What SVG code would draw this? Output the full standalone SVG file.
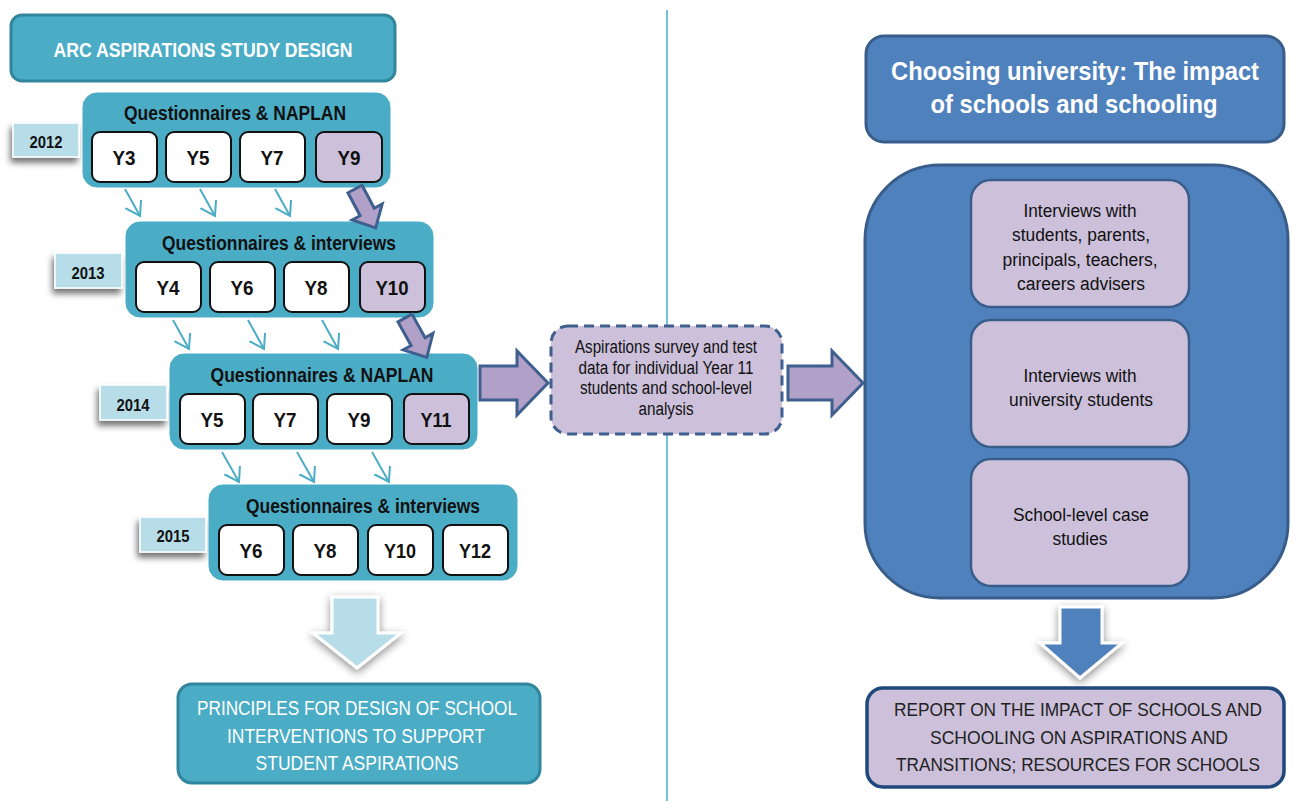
<svg xmlns="http://www.w3.org/2000/svg" width="1295" height="801" viewBox="0 0 1295 801">
<defs>
<filter id="sh" x="-30%" y="-30%" width="160%" height="180%"><feDropShadow dx="-2" dy="5" stdDeviation="3" flood-color="#000" flood-opacity="0.55"/></filter>
<filter id="sh2" x="-30%" y="-30%" width="160%" height="160%"><feDropShadow dx="0" dy="3" stdDeviation="4" flood-color="#000" flood-opacity="0.45"/></filter>
<marker id="v" markerUnits="userSpaceOnUse" markerWidth="18" markerHeight="20" refX="14" refY="9" orient="auto"><path d="M0,0 L14,9 L0,18" fill="none" stroke="#4BACC6" stroke-width="2"/></marker>
<style>
text{font-family:"Liberation Sans",Arial,sans-serif;text-anchor:middle;}
.grp{fill:#4BACC6;stroke:#4BACC6;}
.yb{fill:#fff;stroke:#111;stroke-width:2;}
.yp{fill:#CCC0DA;stroke:#111;stroke-width:2;}
.yt{font-weight:bold;font-size:21px;fill:#111;}
.hd{font-weight:bold;font-size:20px;fill:#111;}
.tag{fill:#B7DEE8;stroke:#fff;stroke-width:1.5;}
.tagt{font-weight:bold;font-size:16px;fill:#111;}
.thin{stroke:#4BACC6;stroke-width:2;fill:none;marker-end:url(#v);}
.parr{fill:#B1A0C7;stroke:#3F5F8F;stroke-width:3;stroke-linejoin:miter;}
.lav{fill:#CCC0DA;stroke:#385D8A;stroke-width:2.5;}
.nt{font-size:18px;fill:#111;}
.st{font-size:18px;fill:#111;}
.wt{font-size:20px;fill:#fff;}
.rt{font-size:18.5px;fill:#222;}
.tt{font-weight:bold;font-size:25px;fill:#fff;}
</style>
</defs>
<rect width="1295" height="801" fill="#fff"/>
<line x1="667" y1="10" x2="667" y2="801" stroke="#4BACC6" stroke-width="1.5"/>

<g id="title-left">
<rect x="11" y="15" width="384" height="66" rx="11" fill="#4BACC6" stroke="#31859C" stroke-width="3"/>
<text x="203" y="57" font-weight="bold" font-size="20" fill="#fff" textLength="299" lengthAdjust="spacingAndGlyphs">ARC ASPIRATIONS STUDY DESIGN</text>
</g>

<g id="tag-2012"><rect class="tag" x="13" y="123" width="66" height="34" filter="url(#sh)"/><text class="tagt" x="46" y="148" textLength="33" lengthAdjust="spacingAndGlyphs">2012</text></g>
<g id="tag-2013"><rect class="tag" x="55" y="253" width="67" height="35" filter="url(#sh)"/><text class="tagt" x="88" y="279" textLength="33" lengthAdjust="spacingAndGlyphs">2013</text></g>
<g id="tag-2014"><rect class="tag" x="100" y="385" width="67" height="35" filter="url(#sh)"/><text class="tagt" x="133" y="411" textLength="33" lengthAdjust="spacingAndGlyphs">2014</text></g>
<g id="tag-2015"><rect class="tag" x="140" y="517" width="66" height="35" filter="url(#sh)"/><text class="tagt" x="173" y="542" textLength="33" lengthAdjust="spacingAndGlyphs">2015</text></g>

<g id="group-2012">
<rect class="grp" x="83" y="93" width="307" height="94" rx="14"/>
<text class="hd" x="235" y="120" textLength="222" lengthAdjust="spacingAndGlyphs">Questionnaires &amp; NAPLAN</text>
<rect class="yb" x="92" y="132" width="65" height="50" rx="8"/><text class="yt" x="124" y="165" textLength="23" lengthAdjust="spacingAndGlyphs">Y3</text>
<rect class="yb" x="166" y="132" width="65" height="50" rx="8"/><text class="yt" x="198" y="165" textLength="23" lengthAdjust="spacingAndGlyphs">Y5</text>
<rect class="yb" x="240" y="132" width="65" height="50" rx="8"/><text class="yt" x="272" y="165" textLength="23" lengthAdjust="spacingAndGlyphs">Y7</text>
<rect class="yp" x="316" y="132" width="66" height="50" rx="8"/><text class="yt" x="349" y="165" textLength="23" lengthAdjust="spacingAndGlyphs">Y9</text>
</g>

<g id="group-2013">
<rect class="grp" x="126" y="222" width="307" height="95" rx="14"/>
<text class="hd" x="279" y="250" textLength="234" lengthAdjust="spacingAndGlyphs">Questionnaires &amp; interviews</text>
<rect class="yb" x="136" y="262" width="65" height="50" rx="8"/><text class="yt" x="168" y="295" textLength="23" lengthAdjust="spacingAndGlyphs">Y4</text>
<rect class="yb" x="210" y="262" width="65" height="50" rx="8"/><text class="yt" x="242" y="295" textLength="23" lengthAdjust="spacingAndGlyphs">Y6</text>
<rect class="yb" x="284" y="262" width="65" height="50" rx="8"/><text class="yt" x="316" y="295" textLength="23" lengthAdjust="spacingAndGlyphs">Y8</text>
<rect class="yp" x="360" y="262" width="65" height="50" rx="8"/><text class="yt" x="392" y="295" textLength="33" lengthAdjust="spacingAndGlyphs">Y10</text>
</g>

<g id="group-2014">
<rect class="grp" x="170" y="354" width="307" height="95" rx="14"/>
<text class="hd" x="322" y="382" textLength="223" lengthAdjust="spacingAndGlyphs">Questionnaires &amp; NAPLAN</text>
<rect class="yb" x="180" y="394" width="65" height="50" rx="8"/><text class="yt" x="212" y="427" textLength="23" lengthAdjust="spacingAndGlyphs">Y5</text>
<rect class="yb" x="253" y="394" width="65" height="50" rx="8"/><text class="yt" x="285" y="427" textLength="23" lengthAdjust="spacingAndGlyphs">Y7</text>
<rect class="yb" x="327" y="394" width="65" height="50" rx="8"/><text class="yt" x="359" y="427" textLength="23" lengthAdjust="spacingAndGlyphs">Y9</text>
<rect class="yp" x="404" y="394" width="65" height="50" rx="8"/><text class="yt" x="436" y="427" textLength="31" lengthAdjust="spacingAndGlyphs">Y11</text>
</g>

<g id="group-2015">
<rect class="grp" x="209" y="485" width="308" height="95" rx="14"/>
<text class="hd" x="363" y="513" textLength="234" lengthAdjust="spacingAndGlyphs">Questionnaires &amp; interviews</text>
<rect class="yb" x="219" y="525" width="65" height="50" rx="8"/><text class="yt" x="251" y="558" textLength="23" lengthAdjust="spacingAndGlyphs">Y6</text>
<rect class="yb" x="293" y="525" width="65" height="50" rx="8"/><text class="yt" x="325" y="558" textLength="23" lengthAdjust="spacingAndGlyphs">Y8</text>
<rect class="yb" x="368" y="525" width="65" height="50" rx="8"/><text class="yt" x="400" y="558" textLength="32" lengthAdjust="spacingAndGlyphs">Y10</text>
<rect class="yb" x="443" y="525" width="65" height="50" rx="8"/><text class="yt" x="475" y="558" textLength="32" lengthAdjust="spacingAndGlyphs">Y12</text>
</g>

<g id="connectors">
<line class="thin" x1="125" y1="189" x2="140" y2="216"/>
<line class="thin" x1="200" y1="189" x2="215" y2="216"/>
<line class="thin" x1="275" y1="189" x2="290" y2="216"/>
<line class="thin" x1="173" y1="320" x2="189" y2="349"/>
<line class="thin" x1="248" y1="320" x2="264" y2="349"/>
<line class="thin" x1="322" y1="320" x2="338" y2="349"/>
<line class="thin" x1="222" y1="452" x2="239" y2="482"/>
<line class="thin" x1="297" y1="452" x2="314" y2="482"/>
<line class="thin" x1="372" y1="452" x2="389" y2="482"/>
<polygon class="parr" transform="translate(355,189) rotate(62)" points="0,-8 26,-8 26,-17 44,0 26,17 26,8 0,8"/>
<polygon class="parr" transform="translate(405,318) rotate(61)" points="0,-8 27,-8 27,-17 45,0 27,17 27,8 0,8"/>
<polygon class="parr" points="480,366 517,366 517,351 548,383 517,415 517,400 480,400"/>
<polygon class="parr" points="788,366 832,366 832,351 863,383 832,415 832,400 788,400"/>
<polygon points="332,597 378,597 378,633 401,633 357,668 313,633 332,633" fill="#B7DEE8" stroke="#fff" stroke-width="3" filter="url(#sh2)"/>
<polygon points="1060,607 1102,607 1102,643 1122,643 1080,678 1040,643 1060,643" fill="#4F81BD" stroke="#fff" stroke-width="3" filter="url(#sh2)"/>
</g>

<g id="principles">
<rect x="178" y="684" width="362" height="99" rx="14" fill="#4BACC6" stroke="#31859C" stroke-width="3"/>
<text class="wt" x="357" y="715" textLength="320" lengthAdjust="spacingAndGlyphs">PRINCIPLES FOR DESIGN OF SCHOOL</text>
<text class="wt" x="356" y="743" textLength="258" lengthAdjust="spacingAndGlyphs">INTERVENTIONS TO SUPPORT</text>
<text class="wt" x="357" y="770" textLength="203" lengthAdjust="spacingAndGlyphs">STUDENT ASPIRATIONS</text>
</g>

<g id="survey">
<rect x="551" y="326" width="231" height="108" rx="17" fill="#CCC0DA" stroke="#3F5F8F" stroke-width="3" stroke-dasharray="10,6"/>
<text class="st" x="666" y="353" textLength="182" lengthAdjust="spacingAndGlyphs">Aspirations survey and test</text>
<text class="st" x="666" y="374" textLength="175" lengthAdjust="spacingAndGlyphs">data for individual Year 11</text>
<text class="st" x="666" y="394" textLength="172" lengthAdjust="spacingAndGlyphs">students and school-level</text>
<text class="st" x="666" y="415" textLength="55" lengthAdjust="spacingAndGlyphs">analysis</text>
</g>

<g id="title-right">
<rect x="866" y="36" width="418" height="106" rx="18" fill="#4F81BD" stroke="#385D8A" stroke-width="3"/>
<text class="tt" x="1075" y="80" textLength="368" lengthAdjust="spacingAndGlyphs">Choosing university: The impact</text>
<text class="tt" x="1074" y="113" textLength="287" lengthAdjust="spacingAndGlyphs">of schools and schooling</text>
</g>

<g id="methods">
<rect x="865" y="165" width="423" height="433" rx="75" fill="#4F81BD" stroke="#385D8A" stroke-width="3"/>
</g>
<g id="interviews-school">
<rect class="lav" x="971" y="180" width="218" height="127" rx="20"/>
<text class="nt" x="1080" y="217" textLength="113" lengthAdjust="spacingAndGlyphs">Interviews with</text>
<text class="nt" x="1081" y="241" textLength="138" lengthAdjust="spacingAndGlyphs">students, parents,</text>
<text class="nt" x="1080" y="266" textLength="155" lengthAdjust="spacingAndGlyphs">principals, teachers,</text>
<text class="nt" x="1081" y="290" textLength="128" lengthAdjust="spacingAndGlyphs">careers advisers</text>
</g>
<g id="interviews-uni">
<rect class="lav" x="971" y="320" width="218" height="127" rx="20"/>
<text class="nt" x="1080" y="382" textLength="113" lengthAdjust="spacingAndGlyphs">Interviews with</text>
<text class="nt" x="1081" y="406" textLength="144" lengthAdjust="spacingAndGlyphs">university students</text>
</g>
<g id="case-studies">
<rect class="lav" x="971" y="459" width="218" height="127" rx="20"/>
<text class="nt" x="1081" y="521" textLength="136" lengthAdjust="spacingAndGlyphs">School-level case</text>
<text class="nt" x="1080" y="545" textLength="55" lengthAdjust="spacingAndGlyphs">studies</text>
</g>

<g id="report">
<rect x="867" y="688" width="417" height="99" rx="16" fill="#CCC0DA" stroke="#1F497D" stroke-width="3.5"/>
<text class="rt" x="1078" y="716" textLength="368" lengthAdjust="spacingAndGlyphs">REPORT ON THE IMPACT OF SCHOOLS AND</text>
<text class="rt" x="1079" y="744" textLength="298" lengthAdjust="spacingAndGlyphs">SCHOOLING ON ASPIRATIONS AND</text>
<text class="rt" x="1078" y="771" textLength="364" lengthAdjust="spacingAndGlyphs">TRANSITIONS; RESOURCES FOR SCHOOLS</text>
</g>
</svg>
